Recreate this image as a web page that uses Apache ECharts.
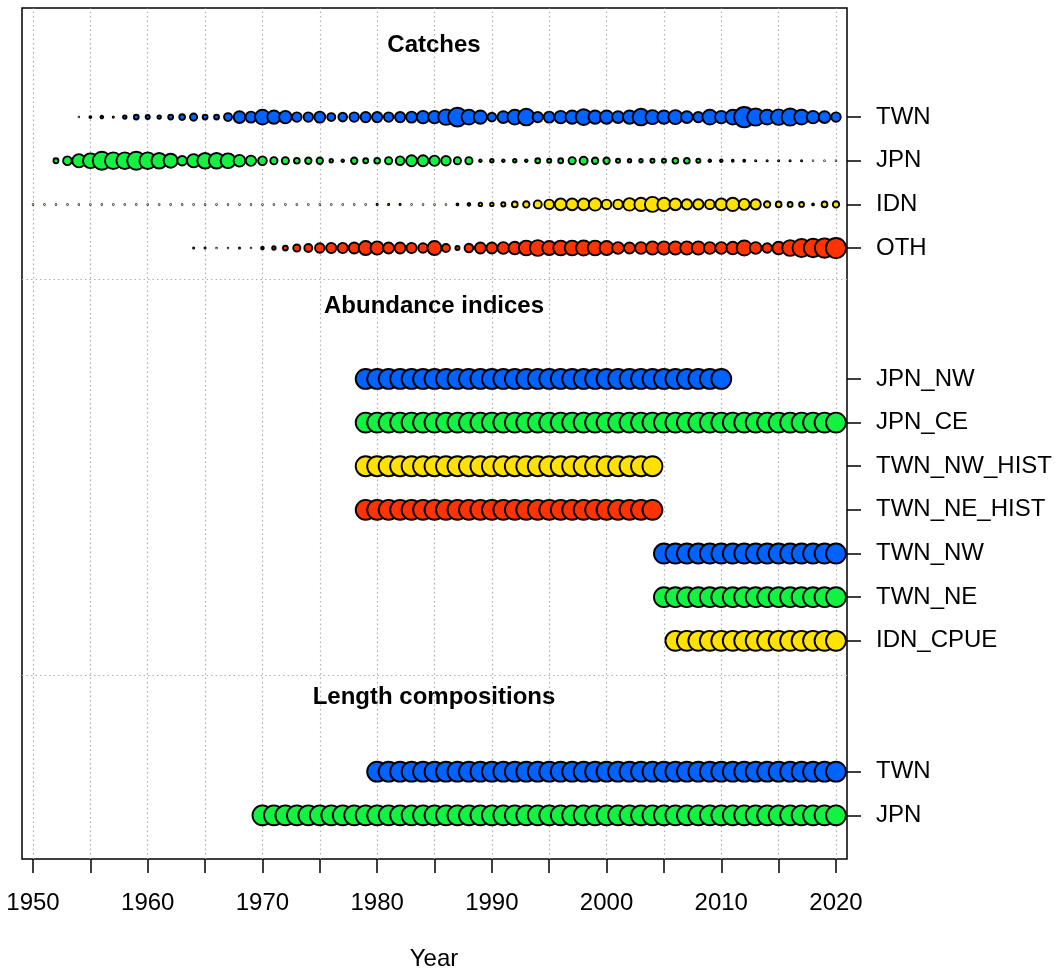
<!DOCTYPE html>
<html><head><meta charset="utf-8">
<script src="https://cdn.jsdelivr.net/npm/echarts@6/dist/echarts.min.js"></script>
<style>html,body{margin:0;padding:0;background:#fff}#c{width:1059px;height:972px}</style>
</head><body><div id="c"></div>
<script>
// ---------- DATA ----------
const fleetColors = ['#0063FF', '#13F240', '#FFE201', '#FF3300'];

// Catches: relative catch (% of the largest annual catch), one value per year from the start year
const catchNames = ['TWN', 'JPN', 'IDN', 'OTH'];
const catchRows = [16, 15, 14, 13];
const catchColorIdx = [0, 1, 2, 3];
const catchStart = [1954, 1952, 1950, 1964];
const catchTWN = [0.5, 2.3, 3.3, 1.5, 4.6, 7.4, 5.8, 4.6, 7.4, 9.3, 13.2, 7.4, 7.4, 15.6, 29.8, 26.4,
  44.6, 36.5, 33.3, 20.7, 20.7, 26.4, 15.6, 17.9, 20.7, 23.7, 23.7, 20.7, 23.7, 26.4, 33.3, 33.3,
  48.4, 68, 44.6, 36.5, 17.9, 29.8, 44.6, 55, 23.7, 26.4, 33.3, 36.5, 50, 36.5, 36.5, 29.8,
  36.5, 55, 40.5, 36.5, 40.5, 29.8, 23.7, 44.6, 33.3, 44.6, 78, 58, 44.6, 48.4, 58, 44.6,
  33.3, 29.8, 20.7];
const catchJPN = [7.4, 17.9, 36.5, 44.6, 64, 55, 55, 64, 55, 48.4, 40.5, 20.7, 36.5, 48.4,
  48.4, 44.6, 29.8, 23.7, 17.9, 13.2, 13.2, 9.3, 11, 11, 4.6, 3.3, 11, 7.4, 9.3, 13.2, 17.9, 26.4,
  26.4, 23.7, 20.7, 13.2, 13.2, 3.3, 4.6, 3.3, 4.6, 3.3, 7.4, 5.8, 7.4, 13.2, 15.6, 11, 11, 5.8,
  4.6, 4.6, 5.8, 5.8, 9.3, 9.3, 5.8, 3.3, 3.3, 2.3, 2.3, 1.5, 1.5, 1.5, 1.5, 1.5, 0.8, 0.8, 0.8];
const catchIDN = [0.4, 0.4, 0.4, 0.4, 0.4, 0.4, 0.4, 0.4, 0.4, 0.4, 0.4, 0.4, 0.4, 0.4, 0.4, 0.4,
  0.4, 0.4, 0.4, 0.4, 0.4, 0.4, 0.4, 0.4, 0.4, 0.4, 0.4, 0.4, 0.4, 0.4, 1.5, 1.5, 1.5, 0.8, 0.8,
  0.8, 0.8, 2.3, 3.3, 4.6, 4.6, 5.8, 9.3, 11, 15.6, 20.7, 29.8, 29.8, 29.8, 33.3, 20.7, 20.7, 33.3,
  36.5, 46, 36.5, 29.8, 23.7, 23.7, 20.7, 29.8, 36.5, 26.4, 23.7, 11, 9.3, 7.4, 7.4, 2.3, 9.3, 11];
const catchOTH = [1.5, 1.5, 0.6, 0.6, 1.5, 0.35, 3.3, 4.6, 7.4, 13.2, 15.6, 20.7, 23.7, 23.7, 26.4,
  40.5, 36.5, 26.4, 26.4, 23.7, 20.7, 40.5, 15.6, 5.8, 17.9, 26.4, 26.4, 29.8, 33.3, 44.6, 50,
  40.5, 44.6, 44.6, 46, 44.6, 40.5, 29.8, 26.4, 29.8, 36.5, 36.5, 36.5, 36.5, 36.5, 29.8, 29.8,
  33.3, 46, 29.8, 20.7, 33.3, 50, 64, 66, 72, 78];
const catchValues = [catchTWN, catchJPN, catchIDN, catchOTH];

// Abundance indices: first and last year of each index
const indexNames = ['JPN_NW', 'JPN_CE', 'TWN_NW_HIST', 'TWN_NE_HIST', 'TWN_NW', 'TWN_NE', 'IDN_CPUE'];
const indexRows = [10, 9, 8, 7, 6, 5, 4];
const indexColorIdx = [0, 1, 2, 3, 0, 1, 2];
const indexFirst = [1979, 1979, 1979, 1979, 2005, 2005, 2006];
const indexLast = [2010, 2020, 2004, 2004, 2020, 2020, 2020];

// Length compositions: first and last year
const lenNames = ['TWN', 'JPN'];
const lenRows = [1, 0];
const lenColorIdx = [0, 1];
const lenFirst = [1980, 1970];
const lenLast = [2020, 2020];

// Axis ticks
const xTickYears = [1950, 1955, 1960, 1965, 1970, 1975, 1980, 1985, 1990, 1995, 2000, 2005, 2010, 2015, 2020];
const xLabelYears = [1950, 1960, 1970, 1980, 1990, 2000, 2010, 2020];
const sectionTitles = ['Catches', 'Abundance indices', 'Length compositions'];
const sectionSeparators = [12.28, 3.22];

// ---------- BUILD ----------
const rowLabel = {};
catchNames.forEach((n, i) => rowLabel[catchRows[i]] = n);
indexNames.forEach((n, i) => rowLabel[indexRows[i]] = n);
lenNames.forEach((n, i) => rowLabel[lenRows[i]] = n);
const rowPositions = Object.keys(rowLabel).map(Number).sort((a, b) => a - b);

const BW = 1.9;
const OUTER_MAX = 25;
const series = [];
series.push({
  type: 'scatter', data: [], z: 1, zlevel: 0, silent: true,
  markLine: {
    z: 1, silent: true, symbol: ['none', 'none'], label: { show: false }, animation: false,
    lineStyle: { color: '#b0b0b0', type: [1.5, 3], width: 1.2 },
    data: xTickYears.map(y => ({ xAxis: y })).concat(sectionSeparators.map(r => ({ yAxis: r })))
  }
});
catchNames.forEach((n, i) => {
  const data = catchValues[i].map((v, k) => [catchStart[i] + k, catchRows[i], v]);
  series.push({
    type: 'scatter', name: 'catch ' + n, z: 6, data,
    symbolSize: d => Math.max(OUTER_MAX * Math.sqrt(d[2] / 100) - BW, 0.6),
    itemStyle: { color: fleetColors[catchColorIdx[i]], borderColor: '#000', borderWidth: BW, opacity: 1 }
  });
});
function rangeSeries(names, rows, cidx, first, last) {
  names.forEach((n, i) => {
    const data = [];
    for (let y = first[i]; y <= last[i]; y++) data.push([y, rows[i]]);
    series.push({
      type: 'scatter', name: n, z: 6, data, symbolSize: 21.8 - BW,
      itemStyle: { color: fleetColors[cidx[i]], borderColor: '#000', borderWidth: BW, opacity: 1 }
    });
  });
}
rangeSeries(indexNames, indexRows, indexColorIdx, indexFirst, indexLast);
rangeSeries(lenNames, lenRows, lenColorIdx, lenFirst, lenLast);

const FONT = '"Liberation Sans", Arial, sans-serif';
const FS = 24;
const chart = echarts.init(document.getElementById('c'), null, { renderer: 'canvas' });
chart.setOption({
  animation: false,
  backgroundColor: '#fff',
  grid: { left: 22, right: 212, top: 8, bottom: 113, show: true, borderColor: '#000', borderWidth: 1.5, backgroundColor: 'transparent' },
  xAxis: {
    type: 'value', min: 1949.04, max: 2020.96, position: 'bottom',
    axisLine: { show: false, onZero: false },
    axisTick: { show: true, length: 14, customValues: xTickYears, lineStyle: { color: '#000', width: 1.5 } },
    axisLabel: { customValues: xLabelYears, formatter: v => String(v), fontSize: FS, color: '#000', fontFamily: FONT, margin: 32 },
    splitLine: { show: false }
  },
  yAxis: {
    type: 'value', min: -1, max: 18.5, position: 'right',
    axisLine: { show: false, onZero: false },
    axisTick: { show: true, length: 14, customValues: rowPositions, lineStyle: { color: '#000', width: 1.5 } },
    axisLabel: { customValues: rowPositions, formatter: v => rowLabel[v] || '', fontSize: FS, color: '#000', fontFamily: FONT, margin: 29, align: 'left', padding: [4, 0, 0, 0] },
    splitLine: { show: false }
  },
  graphic: [
    { type: 'text', x: 434, y: 45, style: { text: sectionTitles[0], font: 'bold ' + FS + 'px ' + FONT, fill: '#000', align: 'center', verticalAlign: 'middle' } },
    { type: 'text', x: 434, y: 306, style: { text: sectionTitles[1], font: 'bold ' + FS + 'px ' + FONT, fill: '#000', align: 'center', verticalAlign: 'middle' } },
    { type: 'text', x: 434, y: 697, style: { text: sectionTitles[2], font: 'bold ' + FS + 'px ' + FONT, fill: '#000', align: 'center', verticalAlign: 'middle' } },
    { type: 'text', x: 434, y: 959, style: { text: 'Year', font: FS + 'px ' + FONT, fill: '#000', align: 'center', verticalAlign: 'middle' } }
  ],
  series
});
</script></body></html>
